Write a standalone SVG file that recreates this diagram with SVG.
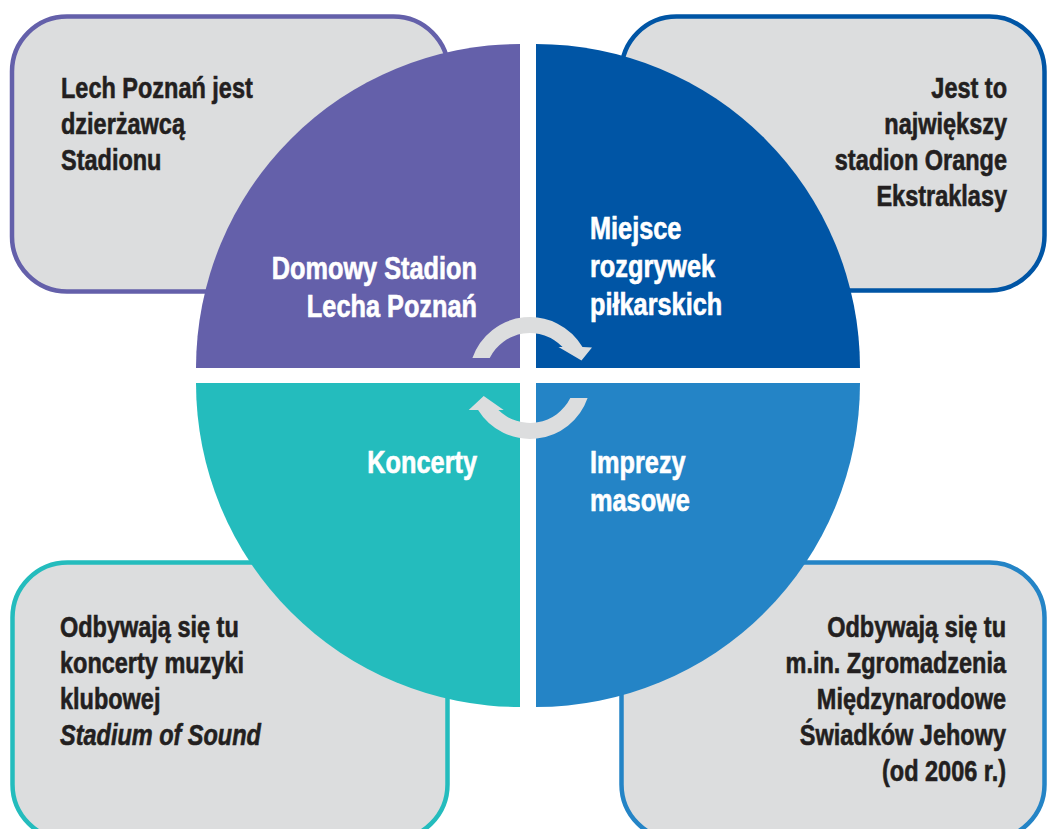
<svg xmlns="http://www.w3.org/2000/svg" width="1047" height="829" viewBox="0 0 1047 829">
<style>
.box{fill:#DCDDDE;stroke-width:4.5}
.t{font-family:"Liberation Sans",Arial,sans-serif;font-weight:bold;font-size:29px;fill:#231F20;stroke:#231F20;stroke-width:0.6}
.q{font-family:"Liberation Sans",Arial,sans-serif;font-weight:bold;font-size:30.5px;fill:#FFFFFF;stroke:#FFFFFF;stroke-width:0.6}
.r{text-anchor:end}
.arrow{fill:#DCDDDE}
</style>
<rect width="1047" height="829" fill="#FFFFFF"/>
<g id="box-tl">
<rect class="box" x="12" y="16.5" width="436.5" height="275" rx="55" stroke="#6460AA"/>
<text class="t" transform="translate(61,98) scale(0.81,1)">Lech Poznań jest</text>
<text class="t" transform="translate(61,134) scale(0.81,1)">dzierżawcą</text>
<text class="t" transform="translate(61,170) scale(0.81,1)">Stadionu</text>
</g>
<g id="box-tr">
<rect class="box" x="621.5" y="16.5" width="423" height="274" rx="55" stroke="#0055A5"/>
<text class="t r" transform="translate(1007,98) scale(0.81,1)">Jest to</text>
<text class="t r" transform="translate(1007,134) scale(0.81,1)">największy</text>
<text class="t r" transform="translate(1007,170) scale(0.81,1)">stadion Orange</text>
<text class="t r" transform="translate(1007,206) scale(0.81,1)">Ekstraklasy</text>
</g>
<g id="box-bl">
<rect class="box" x="12.5" y="562.5" width="435" height="277" rx="55" stroke="#24BCBD"/>
<text class="t" transform="translate(60,637) scale(0.81,1)">Odbywają się tu</text>
<text class="t" transform="translate(60,673) scale(0.81,1)">koncerty muzyki</text>
<text class="t" transform="translate(60,709) scale(0.81,1)">klubowej</text>
<text class="t" transform="translate(60,745) scale(0.81,1)" font-style="italic">Stadium of Sound</text>
</g>
<g id="box-br">
<rect class="box" x="621.5" y="562.5" width="423" height="277" rx="55" stroke="#2484C6"/>
<text class="t r" transform="translate(1006,637) scale(0.81,1)">Odbywają się tu</text>
<text class="t r" transform="translate(1006,673) scale(0.81,1)">m.in. Zgromadzenia</text>
<text class="t r" transform="translate(1006,709) scale(0.81,1)">Międzynarodowe</text>
<text class="t r" transform="translate(1006,745) scale(0.81,1)">Świadków Jehowy</text>
<text class="t r" transform="translate(1006,781) scale(0.81,1)">(od 2006 r.)</text>
</g>
<g id="q-tl">
<path d="M520,368 L196,368 A324,324 0 0 1 520,44 Z" fill="#6460AA"/>
<text class="q r" transform="translate(477,279) scale(0.83,1)">Domowy Stadion</text>
<text class="q r" transform="translate(477,317) scale(0.83,1)">Lecha Poznań</text>
</g>
<g id="q-tr">
<path d="M536,368 L536,44 A324,324 0 0 1 860,368 Z" fill="#0055A5"/>
<text class="q" transform="translate(590,239) scale(0.83,1)">Miejsce</text>
<text class="q" transform="translate(590,277) scale(0.83,1)">rozgrywek</text>
<text class="q" transform="translate(590,315) scale(0.83,1)">piłkarskich</text>
</g>
<g id="q-bl">
<path d="M520,383 L520,707 A324,324 0 0 1 196,383 Z" fill="#24BCBD"/>
<text class="q r" transform="translate(477,473) scale(0.83,1)">Koncerty</text>
</g>
<g id="q-br">
<path d="M536,383 L860,383 A324,324 0 0 1 536,707 Z" fill="#2484C6"/>
<text class="q" transform="translate(590,473) scale(0.83,1)">Imprezy</text>
<text class="q" transform="translate(590,511) scale(0.83,1)">masowe</text>
</g>
<g id="connectors">
<path class="arrow" d="M472.4,358 A61,61 0 0 1 582.5,347 L592,347.5 L581.5,360.5 L558.5,347 L562.6,347 A45,45 0 0 0 489.7,358 Z"/>
<path class="arrow" d="M587.6,398 A61,61 0 0 1 478.1,410 L468.7,410 L483.7,396 L503.7,410 L498.4,410 A45,45 0 0 0 570.3,398 Z"/>
</g>
</svg>
